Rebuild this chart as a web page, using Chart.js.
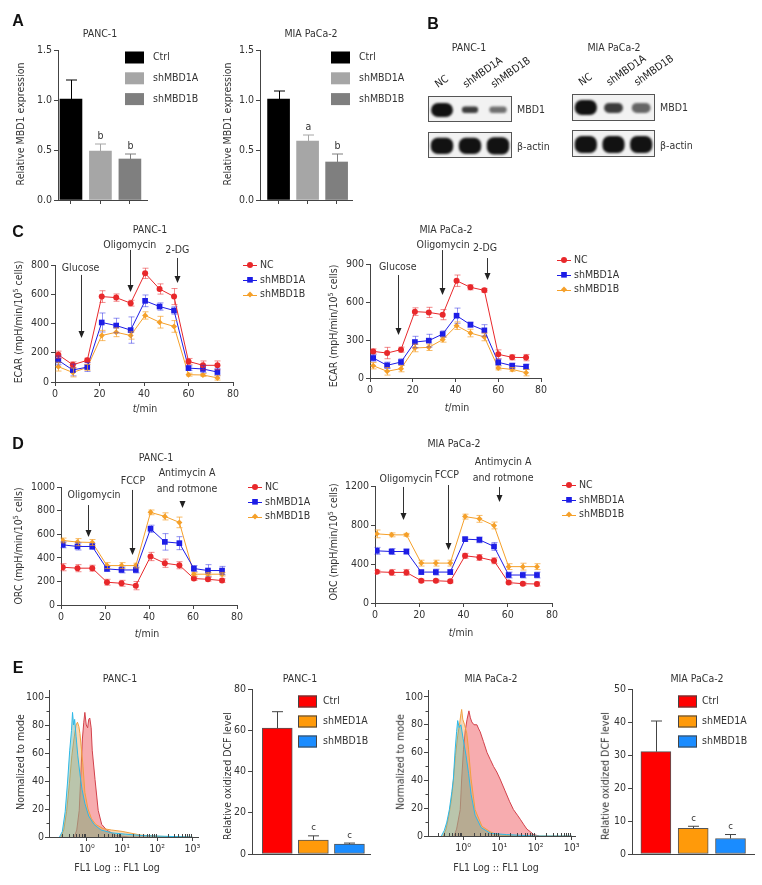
<!DOCTYPE html>
<html>
<head>
<meta charset="utf-8">
<script src="https://cdn.jsdelivr.net/npm/chart.js@4.4.0/dist/chart.umd.min.js"></script>
<style>
    body { margin: 0; background: #fff; }
    #page { position: relative; width: 762px; height: 885px; overflow: hidden; background: #fff;
            font-family: "DejaVu Sans Condensed", "DejaVu Sans", sans-serif; color: #333; }
    #page canvas { position: absolute; left: 0; top: 0; }
    .t { position: absolute; white-space: nowrap; font-size: 10.5px; line-height: 1; }
    .t sup { font-size: 7px; vertical-align: 4px; }
    .pl { font-family: "Liberation Sans", Arial, sans-serif; font-weight: bold; font-size: 16px; color: #111; }
</style>
</head>
<body>
<div id="page"></div>
<script>
        // ---- A: relative MBD1 expression ----
        const aGroups = ['Ctrl', 'shMBD1A', 'shMBD1B'];
        const aPancMean = [1.01, 0.49, 0.41];
        const aPancErr = [0.19, 0.07, 0.05];
        const aPancSig = ['', 'b', 'b'];
        const aMiaMean = [1.01, 0.59, 0.38];
        const aMiaErr = [0.08, 0.06, 0.08];
        const aMiaSig = ['', 'a', 'b'];
        const aYTicks = [0, 0.5, 1.0, 1.5];

        // ---- B: western blot bands (vertical extent inside the strip, intensity) ----
        const bLanes = ['NC', 'shMBD1A', 'shMBD1B'];
        const bPancMbd1 = [[0.19, 0.73], [0.35, 0.6], [0.35, 0.6]];
        const bPancMbd1Int = [1, 0.8, 0.55];
        const bPancActin = [[0.15, 0.78], [0.15, 0.78], [0.13, 0.8]];
        const bMiaMbd1 = [[0.22, 0.78], [0.3, 0.67], [0.3, 0.67]];
        const bMiaMbd1Int = [1, 0.8, 0.6];
        const bMiaActin = [[0.15, 0.78], [0.15, 0.78], [0.15, 0.78]];
        const bActinInt = [1, 1, 1];

        // ---- C: ECAR ----
        const tC = [1.5, 8, 14.5, 21, 27.5, 34, 40.5, 47, 53.5, 60, 66.5, 73];
        const cPancNC = [186, 118, 148, 584, 577, 539, 743, 636, 584, 141, 114, 114];
        const cPancNCErr = [25, 20, 15, 40, 25, 20, 35, 35, 55, 20, 30, 30];
        const cPancA = [148, 82, 102, 407, 386, 355, 555, 516, 489, 95, 89, 68];
        const cPancAErr = [30, 40, 30, 65, 50, 90, 40, 25, 25, 15, 25, 25];
        const cPancB = [105, 65, 100, 318, 340, 318, 455, 409, 380, 50, 48, 28];
        const cPancBErr = [30, 30, 20, 35, 30, 25, 25, 40, 40, 10, 10, 15];
        const cPancStray = [{ x: -5.8, y: 66 }];
        const cMiaNC = [210, 197, 224, 524, 518, 500, 768, 716, 692, 187, 163, 161];
        const cMiaNCErr = [20, 45, 20, 30, 40, 40, 45, 20, 15, 35, 20, 25];
        const cMiaA = [158, 100, 126, 284, 295, 347, 492, 421, 376, 124, 97, 89];
        const cMiaAErr = [25, 25, 25, 45, 50, 25, 60, 20, 45, 25, 20, 20];
        const cMiaB = [97, 53, 74, 237, 242, 303, 413, 355, 324, 79, 68, 42];
        const cMiaBErr = [25, 30, 25, 30, 25, 20, 30, 30, 30, 15, 15, 25];

        // ---- D: ORC ----
        const tD = [0.8, 7.5, 14.2, 20.9, 27.5, 34, 40.7, 47.2, 53.8, 60.4, 66.8, 73.2];
        const dPancNC = [320, 312, 312, 193, 184, 164, 411, 354, 337, 224, 218, 207];
        const dPancNCErr = [30, 30, 25, 25, 25, 35, 35, 35, 30, 15, 15, 15];
        const dPancA = [510, 496, 496, 306, 297, 297, 646, 535, 524, 309, 292, 292];
        const dPancAErr = [25, 30, 25, 20, 25, 25, 30, 70, 55, 25, 50, 35];
        const dPancB = [547, 533, 530, 334, 334, 334, 785, 751, 700, 261, 261, 261];
        const dPancBErr = [20, 30, 25, 25, 25, 20, 20, 30, 45, 15, 15, 15];
        const dMiaNC = [320, 314, 314, 228, 228, 222, 484, 467, 433, 209, 198, 195];
        const dMiaNCErr = [15, 30, 30, 15, 15, 15, 25, 30, 30, 15, 15, 20];
        const dMiaA = [535, 528, 528, 317, 317, 317, 655, 648, 580, 287, 287, 287];
        const dMiaAErr = [35, 30, 25, 20, 30, 25, 20, 30, 40, 30, 30, 30];
        const dMiaB = [709, 699, 699, 409, 409, 409, 886, 863, 795, 373, 373, 373];
        const dMiaBErr = [40, 20, 15, 30, 30, 30, 25, 35, 35, 30, 35, 30];

        // ---- E: flow histograms (x = log10 FL1) and DCF bars ----
        const ePancCyanX = [-0.78, -0.7, -0.62, -0.55, -0.49, -0.44, -0.41, -0.38, -0.35, -0.31, -0.26, -0.2, -0.14, -0.06, 0.05, 0.2, 0.4, 0.7, 1.1, 1.6, 2.2, 3.0];
        const ePancCyanY = [0, 4, 18, 40, 62, 76, 89, 80, 84, 72, 58, 45, 34, 24, 15, 9, 5, 3, 2, 1, 0.5, 0];
        const ePancOrangeX = [-0.74, -0.66, -0.58, -0.5, -0.43, -0.37, -0.31, -0.27, -0.23, -0.2, -0.12, -0.06, 0.03, 0.13, 0.25, 0.46, 0.7, 1.0, 1.5, 2.0, 3.0];
        const ePancOrangeY = [0, 5, 18, 38, 58, 70, 80, 82, 79, 74, 53, 32, 20, 13, 9, 6, 5, 4, 1.5, 0.5, 0];
        const ePancRedX = [-0.36, -0.29, -0.22, -0.18, -0.13, -0.09, -0.06, -0.02, 0.02, 0.05, 0.08, 0.12, 0.15, 0.23, 0.32, 0.42, 0.56, 0.84, 1.2, 2.0];
        const ePancRedY = [0, 5, 19, 41, 70, 82, 89, 80, 78, 84, 85, 78, 62, 41, 19, 9, 5, 1, 0, 0];
        const eMiaCyanX = [-0.6, -0.52, -0.45, -0.38, -0.31, -0.27, -0.22, -0.18, -0.15, -0.11, -0.06, 0.0, 0.08, 0.15, 0.22, 0.33, 0.5, 0.75, 1.2, 2.0, 3.0];
        const eMiaCyanY = [0, 4, 10, 19, 32, 41, 62, 75, 83, 78, 80, 70, 58, 45, 30, 15, 6, 2, 1, 0, 0];
        const eMiaOrangeX = [-0.55, -0.47, -0.4, -0.33, -0.27, -0.21, -0.15, -0.1, -0.06, -0.04, -0.01, 0.04, 0.1, 0.15, 0.22, 0.33, 0.52, 0.75, 0.93, 1.4, 3.0];
        const eMiaOrangeY = [0, 5, 14, 25, 40, 58, 72, 80, 88, 91, 84, 80, 74, 62, 41, 19, 7, 3, 1, 0, 0];
        const eMiaRedX = [-0.25, -0.18, -0.08, -0.04, 0.01, 0.06, 0.11, 0.16, 0.2, 0.24, 0.3, 0.38, 0.43, 0.47, 0.56, 0.66, 0.75, 0.84, 0.93, 1.02, 1.15, 1.28, 1.39, 1.5, 1.58, 1.68, 1.76, 1.86, 1.95, 2.1];
        const eMiaRedY = [0, 5, 19, 41, 62, 76, 84, 90, 85, 82, 80, 80, 77, 75, 68, 60, 55, 50, 46, 41, 33, 25, 19, 15, 12, 8, 5, 3, 1, 0];
        const eHistXTicks = [0, 1, 2, 3];
        const eHistXLabels = ['10\u2070', '10\u00B9', '10\u00B2', '10\u00B3'];
        const eHistMinorLogs = [0.301, 0.477, 0.602, 0.699, 0.778, 0.845, 0.903, 0.954];
        const eHistYTicks = [0, 20, 40, 60, 80, 100];
        const eGroups = ['Ctrl', 'shMED1A', 'shMBD1B'];
        const ePancDcf = [61, 6.8, 4.8];
        const ePancDcfErr = [8, 2, 0.5];
        const eMiaDcf = [31, 7.8, 4.7];
        const eMiaDcfErr = [9.3, 0.6, 1.2];
        const eSig = ['', 'c', 'c'];

        // ---------------------------------------------------------------
        const W = 762, H = 885;
        const page = document.getElementById('page');
        const FF = '"DejaVu Sans Condensed", "DejaVu Sans", sans-serif';
        const F = { family: FF, size: 10.5 };
        const AX = '#444';

        const errPlugin = {
            id: 'errbars',
            afterDatasetsDraw(chart) {
                const ctx = chart.ctx;
                chart.data.datasets.forEach((ds, i) => {
                    if (!ds.errs) return;
                    const meta = chart.getDatasetMeta(i);
                    const ys = chart.scales[meta.yAxisID];
                    meta.data.forEach((el, j) => {
                        const v = ds.data[j].y;
                        const e = ds.errs[j];
                        const x = Math.round(el.x) + 0.5;
                        const top = ys.getPixelForValue(v + e);
                        const bot = ys.getPixelForValue(ds.errUp ? v : v - e);
                        const cw = ds.capW / 2;
                        ctx.save();
                        ctx.strokeStyle = Array.isArray(ds.errColor) ? ds.errColor[j] : ds.errColor;
                        ctx.lineWidth = 1;
                        ctx.beginPath();
                        ctx.moveTo(x, top); ctx.lineTo(x, bot);
                        ctx.moveTo(x - cw, top); ctx.lineTo(x + cw, top);
                        if (!ds.errUp) { ctx.moveTo(x - cw, bot); ctx.lineTo(x + cw, bot); }
                        ctx.stroke();
                        if (ds.sig && ds.sig[j]) {
                            ctx.fillStyle = '#333';
                            ctx.font = `${ds.sigSize || 10.5}px ${FF}`;
                            ctx.textAlign = 'center';
                            ctx.textBaseline = 'middle';
                            ctx.fillText(ds.sig[j], x, top - 8);
                        }
                        ctx.restore();
                    });
                });
            }
        };

        const legendPlugin = {
            id: 'miniLegend',
            afterDraw(chart, args, o) {
                if (!o || !o.items) return;
                const ctx = chart.ctx;
                ctx.save();
                ctx.font = `10.5px ${FF}`;
                ctx.textBaseline = 'middle';
                o.items.forEach((it, i) => {
                    const y = o.y + i * o.dy;
                    if (o.kind === 'box') {
                        ctx.fillStyle = it.color;
                        ctx.fillRect(o.x, y - o.bh / 2, o.bw, o.bh);
                        if (o.border) {
                            ctx.strokeStyle = o.border;
                            ctx.lineWidth = 1;
                            ctx.strokeRect(o.x + 0.5, y - o.bh / 2 + 0.5, o.bw - 1, o.bh - 1);
                        }
                        ctx.fillStyle = '#333';
                        ctx.fillText(it.label, o.x + o.bw + o.gap, y);
                    } else {
                        ctx.strokeStyle = it.color;
                        ctx.fillStyle = it.color;
                        ctx.lineWidth = 1;
                        ctx.beginPath();
                        ctx.moveTo(o.x, Math.round(y) + 0.5);
                        ctx.lineTo(o.x + o.len, Math.round(y) + 0.5);
                        ctx.stroke();
                        Chart.helpers.drawPoint(ctx, { pointStyle: it.style, radius: it.r, rotation: 0, borderWidth: 0 }, o.x + o.len / 2, y);
                        ctx.fillStyle = '#333';
                        ctx.fillText(it.label, o.x + o.len + o.gap, y);
                    }
                });
                ctx.restore();
            }
        };

        const arrowPlugin = {
            id: 'arrows',
            afterDraw(chart, args, o) {
                if (!o || !o.marks) return;
                const { ctx, scales: { x, y } } = chart;
                ctx.save();
                o.marks.forEach(m => {
                    const px = Math.round(x.getPixelForValue(m.x)) + 0.5;
                    const y1 = y.getPixelForValue(m.from);
                    const y2 = y.getPixelForValue(m.to);
                    ctx.strokeStyle = '#333';
                    ctx.fillStyle = '#222';
                    ctx.lineWidth = 1;
                    ctx.beginPath(); ctx.moveTo(px, y1); ctx.lineTo(px, y2 - 5); ctx.stroke();
                    ctx.beginPath();
                    ctx.moveTo(px - 3, y2 - 7); ctx.lineTo(px + 3, y2 - 7); ctx.lineTo(px, y2);
                    ctx.closePath(); ctx.fill();
                    ctx.fillStyle = '#333';
                    ctx.font = `10.5px ${FF}`;
                    ctx.textAlign = 'center';
                    ctx.textBaseline = 'middle';
                    const lx = x.getPixelForValue(m.lx !== undefined ? m.lx : m.x);
                    m.text.forEach((t, k) => ctx.fillText(t, lx, y.getPixelForValue(m.ly) + k * 16));
                });
                ctx.restore();
            }
        };

        const minorPlugin = {
            id: 'minor',
            afterDraw(chart, args, o) {
                if (!o || !o.x) return;
                const { ctx, scales: { x, y } } = chart;
                ctx.save();
                ctx.strokeStyle = AX;
                ctx.lineWidth = 1;
                ctx.beginPath();
                o.x.forEach(v => {
                    if (v < x.min || v > x.max) return;
                    const px = Math.round(x.getPixelForValue(v)) + 0.5;
                    ctx.moveTo(px, y.bottom); ctx.lineTo(px, y.bottom - 3);
                });
                o.y.forEach(v => {
                    const py = Math.round(y.getPixelForValue(v)) + 0.5;
                    ctx.moveTo(x.left, py); ctx.lineTo(x.left - 2.5, py);
                });
                ctx.stroke();
                ctx.restore();
            }
        };

        // blot strip: background, blurred bands, frame, optional rotated lane names
        const blotPlugin = {
            id: 'blot',
            beforeDatasetsDraw(chart, args, o) {
                if (!o || !o.fill) return;
                const a = chart.chartArea, ctx = chart.ctx;
                ctx.save();
                ctx.fillStyle = o.fill;
                ctx.fillRect(a.left, a.top, a.right - a.left, a.bottom - a.top);
                ctx.filter = 'blur(1.3px)';
            },
            afterDatasetsDraw(chart, args, o) {
                if (!o || !o.fill) return;
                const a = chart.chartArea, ctx = chart.ctx;
                ctx.restore();
                ctx.save();
                ctx.strokeStyle = o.border;
                ctx.lineWidth = 1;
                ctx.strokeRect(a.left + 0.5, a.top + 0.5, a.right - a.left - 1, a.bottom - a.top - 1);
                if (o.lanes) {
                    ctx.fillStyle = '#222';
                    ctx.font = `10.5px ${FF}`;
                    ctx.textAlign = 'left';
                    ctx.textBaseline = 'alphabetic';
                    chart.data.labels.forEach((lab, i) => {
                        const bar = chart.getDatasetMeta(i).data[i];
                        ctx.save();
                        ctx.translate(bar.x - 4, a.top - 8);
                        ctx.rotate(-35 * Math.PI / 180);
                        ctx.fillText(lab, 0, 0);
                        ctx.restore();
                    });
                }
                ctx.restore();
            }
        };

        Chart.register(errPlugin, legendPlugin, arrowPlugin, minorPlugin, blotPlugin);

        function linAxis(o) {
            return {
                type: 'linear',
                position: o.position,
                min: o.min, max: o.max,
                offset: false,
                display: true,
                grid: { drawOnChartArea: false, color: AX, tickColor: AX, tickLength: o.tl !== undefined ? o.tl : 4, drawTicks: o.tl !== 0, offset: false },
                border: { color: AX, width: 1 },
                ticks: { display: o.labels !== false, color: '#333', font: F, padding: o.pad !== undefined ? o.pad : 2, maxRotation: 0, autoSkip: false, callback: o.cb },
                afterBuildTicks: s => { s.ticks = o.ticks.map(v => ({ value: v })); }
            };
        }

        function addChart(area, cfg, yw, xh) {
            const cv = document.createElement('canvas');
            cv.width = W; cv.height = H;
            page.appendChild(cv);
            const sc = cfg.options.scales;
            const yShown = sc.y.display !== false;
            const xShown = sc.x.display !== false;
            if (yShown) sc.y.afterFit = s => { s.width = yw; };
            if (xShown) sc.x.afterFit = s => { s.height = xh; };
            cfg.options.layout = {
                autoPadding: false,
                padding: {
                    left: area[0] - (yShown ? yw : 0),
                    right: W - area[2],
                    top: area[1],
                    bottom: H - area[3] - (xShown ? xh : 0)
                }
            };
            Object.assign(cfg.options, { responsive: false, animation: false, devicePixelRatio: 1, events: [] });
            cfg.options.plugins = Object.assign({ legend: { display: false }, tooltip: { enabled: false } }, cfg.options.plugins);
            return new Chart(cv, cfg);
        }

        // ---- A ----
        const aColors = ['#000000', '#a6a6a6', '#7f7f7f'];
        function barA(area, means, errs, sig, xmin, xmax, legX) {
            addChart(area, {
                type: 'bar',
                data: {
                    labels: aGroups,
                    datasets: [{
                        data: means.map((v, i) => ({ x: i, y: v })),
                        backgroundColor: aColors, barThickness: 22,
                        errs, errUp: true, errColor: aColors, capW: 11, sig
                    }]
                },
                options: {
                    scales: {
                        x: linAxis({ min: xmin, max: xmax, ticks: [0, 1, 2], labels: false }),
                        y: linAxis({ min: 0, max: 1.5, ticks: aYTicks, cb: v => v.toFixed(1) })
                    },
                    plugins: {
                        miniLegend: { kind: 'box', x: legX, y: 57.5, dy: 20.8, bw: 19, bh: 12, gap: 9,
                            items: aGroups.map((g, i) => ({ label: g, color: aColors[i] })) }
                    }
                }
            }, 40, 10);
        }
        barA([58, 50, 147, 200], aPancMean, aPancErr, aPancSig, -0.44, 2.58, 125);
        barA([260, 50, 352, 200], aMiaMean, aMiaErr, aMiaSig, -0.64, 2.53, 331);

        // ---- B ----
        const shade = k => { const g = Math.round(18 + (1 - k) * 210); return `rgb(${g},${g},${g})`; };
        function blot(area, bands, ints, widths, showLanes) {
            addChart(area, {
                type: 'bar',
                data: {
                    labels: bLanes,
                    datasets: bLanes.map((l, i) => ({
                        data: bLanes.map((_, j) => (j === i ? bands[i] : null)),
                        backgroundColor: shade(ints[i]),
                        barPercentage: widths[i], categoryPercentage: 1,
                        borderRadius: 7, borderSkipped: false, grouped: false
                    }))
                },
                options: {
                    scales: {
                        x: { type: 'category', display: false },
                        y: { min: 0, max: 1, display: false }
                    },
                    plugins: { blot: { fill: '#f2f2f2', border: '#555', lanes: showLanes } }
                }
            }, 0, 0);
        }
        blot([428, 96, 512, 122], bPancMbd1, bPancMbd1Int, [0.78, 0.58, 0.62], true);
        blot([428, 132, 512, 158], bPancActin, bActinInt, [0.8, 0.8, 0.8], false);
        blot([572, 94, 655, 121], bMiaMbd1, bMiaMbd1Int, [0.8, 0.68, 0.68], true);
        blot([572, 130, 655, 157], bMiaActin, bActinInt, [0.8, 0.8, 0.8], false);

        // ---- C / D ----
        const SER = {
            NC: { label: 'NC', color: '#e8282b', err: 'rgba(232,40,43,0.55)', style: 'circle', r: 3 },
            A: { label: 'shMBD1A', color: '#1c1ce6', err: 'rgba(40,40,230,0.5)', style: 'rect', r: 4 },
            B: { label: 'shMBD1B', color: '#f5a02a', err: 'rgba(245,160,42,0.7)', style: 'rectRot', r: 3 }
        };
        function series(key, xs, ys, es) {
            const s = SER[key];
            return {
                label: s.label, data: xs.map((x, i) => ({ x, y: ys[i] })), errs: es,
                borderColor: s.color, backgroundColor: s.color, borderWidth: 1,
                pointStyle: s.style, pointRadius: s.r, pointBackgroundColor: s.color,
                pointBorderColor: s.color, pointBorderWidth: 0,
                errColor: s.err, capW: 6
            };
        }
        function seahorse(area, sets, yTicks, marks, leg) {
            addChart(area, {
                type: 'line',
                data: { datasets: sets },
                options: {
                    scales: {
                        x: linAxis({ min: 0, max: 80, ticks: [0, 20, 40, 60, 80] }),
                        y: linAxis({ min: 0, max: yTicks[yTicks.length - 1], ticks: yTicks })
                    },
                    plugins: {
                        arrows: { marks },
                        miniLegend: Object.assign({ kind: 'line', len: 14, gap: 3, dy: 14.8,
                            items: ['NC', 'A', 'B'].map(k => ({ label: SER[k].label, color: SER[k].color, style: SER[k].style, r: SER[k].r })) }, leg)
                    }
                }
            }, 40, 20);
        }

        const stray = Object.assign(series('A', [cPancStray[0].x], [cPancStray[0].y], null), { showLine: false, clip: false });
        seahorse([55, 265, 233, 382], [
            series('NC', tC, cPancNC, cPancNCErr), series('A', tC, cPancA, cPancAErr), series('B', tC, cPancB, cPancBErr), stray
        ], [0, 200, 400, 600, 800], [
            { text: ['Glucose'], x: 11.5, from: 732, to: 301, ly: 780 },
            { text: ['Oligomycin'], x: 33.6, from: 903, to: 615, ly: 937 },
            { text: ['2-DG'], x: 55, from: 848, to: 677, ly: 903 }
        ], { x: 243, y: 265 });

        seahorse([370, 264, 541, 378], [
            series('NC', tC, cMiaNC, cMiaNCErr), series('A', tC, cMiaA, cMiaAErr), series('B', tC, cMiaB, cMiaBErr)
        ], [0, 300, 600, 900], [
            { text: ['Glucose'], x: 13, from: 813, to: 340, ly: 876 },
            { text: ['Oligomycin'], x: 33.7, lx: 34.2, from: 1010, to: 655, ly: 1050 },
            { text: ['2-DG'], x: 54.7, lx: 53.8, from: 947, to: 773, ly: 1026 }
        ], { x: 557, y: 260 });

        seahorse([61, 487, 237, 605], [
            series('NC', tD, dPancNC, dPancNCErr), series('A', tD, dPancA, dPancAErr), series('B', tD, dPancB, dPancBErr)
        ], [0, 200, 400, 600, 800, 1000], [
            { text: ['Oligomycin'], x: 12.1, lx: 15, from: 847, to: 576, ly: 932 },
            { text: ['FCCP'], x: 32.4, lx: 32.7, from: 975, to: 424, ly: 1051 },
            { text: ['Antimycin A', 'and rotmone'], x: 55, lx: 57.3, from: 881, to: 822, ly: 1119 }
        ], { x: 248, y: 487 });

        seahorse([375, 486, 552, 603], [
            series('NC', tD, dMiaNC, dMiaNCErr), series('A', tD, dMiaA, dMiaAErr), series('B', tD, dMiaB, dMiaBErr)
        ], [0, 400, 800, 1200], [
            { text: ['Oligomycin'], x: 12.7, lx: 14, from: 1190, to: 851, ly: 1272 },
            { text: ['FCCP'], x: 33, lx: 32.5, from: 1210, to: 544, ly: 1313 },
            { text: ['Antimycin A', 'and rotmone'], x: 56, lx: 57.9, from: 1190, to: 1036, ly: 1446 }
        ], { x: 562, y: 485 });

        // ---- E: histograms ----
        const minorX = [-1, 0, 1, 2].flatMap(d => eHistMinorLogs.map(m => d + m));
        function histSet(xs, ys, edge, fillc) {
            return { data: xs.map((x, i) => ({ x, y: ys[i] })), borderColor: edge, backgroundColor: fillc,
                     fill: 'origin', borderWidth: 1, pointRadius: 0, tension: 0 };
        }
        function hist(area, xmin, xmax, sets) {
            addChart(area, {
                type: 'line',
                data: { datasets: sets },
                options: {
                    scales: {
                        x: linAxis({ min: xmin, max: xmax, ticks: eHistXTicks, cb: v => eHistXLabels[eHistXTicks.indexOf(v)] }),
                        y: linAxis({ min: 0, max: 105, ticks: eHistYTicks, pad: 1 })
                    },
                    plugins: { minor: { x: minorX, y: [10, 30, 50, 70, 90] } }
                }
            }, 36, 20);
        }
        hist([49, 690, 198, 837], -1.08, 3.16, [
            histSet(ePancCyanX, ePancCyanY, '#2cb8e6', 'rgba(110,175,160,0.45)'),
            histSet(ePancOrangeX, ePancOrangeY, '#f0a040', 'rgba(235,160,80,0.42)'),
            histSet(ePancRedX, ePancRedY, '#d2404a', 'rgba(240,90,95,0.5)')
        ]);
        hist([428, 690, 575, 836], -0.97, 3.09, [
            histSet(eMiaCyanX, eMiaCyanY, '#2cb8e6', 'rgba(110,175,160,0.45)'),
            histSet(eMiaOrangeX, eMiaOrangeY, '#f0a040', 'rgba(235,160,80,0.42)'),
            histSet(eMiaRedX, eMiaRedY, '#d2404a', 'rgba(240,90,95,0.5)')
        ]);

        // ---- E: DCF bars ----
        const eColors = ['#ff0000', '#ff9a0a', '#1a8cff'];
        function barE(area, vals, errs, xmin, xmax, yTicks, legX, gap) {
            addChart(area, {
                type: 'bar',
                data: {
                    labels: eGroups,
                    datasets: [{
                        data: vals.map((v, i) => ({ x: i, y: v })),
                        backgroundColor: eColors, borderColor: '#555', borderWidth: 1, borderSkipped: false,
                        barThickness: 30, errs, errUp: true, errColor: '#444', capW: 11, sig: eSig, sigSize: 9.5
                    }]
                },
                options: {
                    scales: {
                        x: linAxis({ min: xmin, max: xmax, ticks: [0, 1, 2], labels: false, tl: 0 }),
                        y: linAxis({ min: 0, max: yTicks[yTicks.length - 1], ticks: yTicks })
                    },
                    plugins: {
                        miniLegend: { kind: 'box', x: legX, y: 701.5, dy: 20, bw: 19, bh: 12, gap, border: '#444',
                            items: eGroups.map((g, i) => ({ label: g, color: eColors[i] })) }
                    }
                }
            }, 30, 6);
        }
        barE([252, 689, 370, 854], ePancDcf, ePancDcfErr, -0.7, 2.57, [0, 20, 40, 60, 80], 298, 6);
        barE([632, 689, 754, 854], eMiaDcf, eMiaDcfErr, -0.64, 2.63, [0, 10, 20, 30, 40, 50], 678, 5);

        // ---- text ----
        function txt(html, x, y, opt = {}) {
            const d = document.createElement('div');
            d.className = 't' + (opt.cls ? ' ' + opt.cls : '');
            d.innerHTML = html;
            d.style.left = x + 'px';
            d.style.top = y + 'px';
            const tr = opt.left ? 'translate(0,-50%)' : 'translate(-50%,-50%)';
            d.style.transform = tr + (opt.rot ? ` rotate(${opt.rot}deg)` : '');
            page.appendChild(d);
        }
        [['A', 18, 21], ['B', 433, 24], ['C', 18, 232], ['D', 18, 444], ['E', 18, 668]]
            .forEach(([s, x, y]) => txt(s, x, y, { cls: 'pl' }));
        [['PANC-1', 100, 33], ['MIA PaCa-2', 311, 33], ['PANC-1', 469, 47], ['MIA PaCa-2', 614, 47],
         ['PANC-1', 150, 229], ['MIA PaCa-2', 446, 229], ['PANC-1', 156, 457], ['MIA PaCa-2', 454, 443],
         ['PANC-1', 120, 678], ['PANC-1', 300, 678], ['MIA PaCa-2', 491, 678], ['MIA PaCa-2', 697, 678]]
            .forEach(([s, x, y]) => txt(s, x, y));
        [['MBD1', 517, 109], ['&beta;-actin', 517, 146], ['MBD1', 660, 107], ['&beta;-actin', 660, 145]]
            .forEach(([s, x, y]) => txt(s, x, y, { left: true }));
        const ecar = 'ECAR (mpH/min/10<sup>5</sup> cells)';
        const orc = 'ORC (mpH/min/10<sup>5</sup> cells)';
        [['Relative MBD1 expression', 20, 124], ['Relative MBD1 expression', 227, 124],
         [ecar, 18, 322], [ecar, 333, 326], [orc, 18, 546], [orc, 333, 542],
         ['Normalized to mode', 20, 762], ['Normalized to mode', 400, 762],
         ['Relative oxidized DCF level', 227, 776], ['Relative oxidized DCF level', 605, 776]]
            .forEach(([s, x, y]) => txt(s, x, y, { rot: -90 }));
        [['<i>t</i>/min', 145, 408], ['<i>t</i>/min', 457, 407], ['<i>t</i>/min', 147, 633], ['<i>t</i>/min', 461, 632],
         ['FL1 Log :: FL1 Log', 117, 867], ['FL1 Log :: FL1 Log', 496, 867]]
            .forEach(([s, x, y]) => txt(s, x, y));
</script>
</body>
</html>
